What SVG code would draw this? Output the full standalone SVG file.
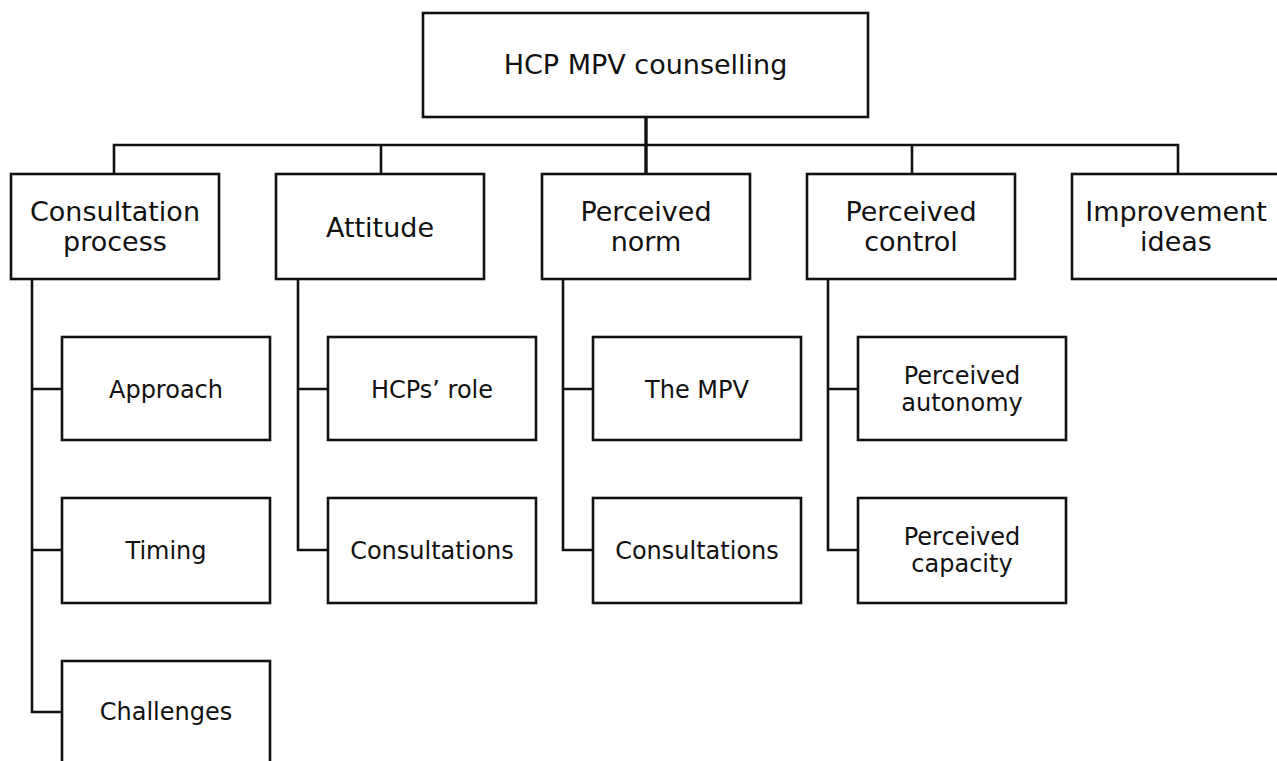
<svg xmlns="http://www.w3.org/2000/svg" width="1277" height="761" viewBox="0 0 1277 761">
<style>
.box{fill:#fff;stroke:#111;stroke-width:2.6}
.ln{fill:none;stroke:#111;stroke-width:2.6}
.t1{font-family:"DejaVu Sans",Verdana,sans-serif;font-size:27px;fill:#111;text-anchor:middle}
.t2{font-family:"DejaVu Sans",Verdana,sans-serif;font-size:24px;fill:#111;text-anchor:middle}
</style>
<rect width="1277" height="761" fill="#fff"/>
<g id="connectors">
<path class="ln" d="M646 117V174" style="stroke-width:3.4"/>
<path class="ln" d="M114 174V145H1178V174"/>
<path class="ln" d="M381 145V174M912 145V174"/>
<path class="ln" d="M32 279V712H62M32 389H62M32 550H62"/>
<path class="ln" d="M298 279V550H328M298 389H328"/>
<path class="ln" d="M563 279V550H593M563 389H593"/>
<path class="ln" d="M828 279V550H858M828 389H858"/>
</g>
<g id="root"><rect class="box" x="423" y="13" width="445" height="104"/><text class="t1" x="645.5" y="74">HCP MPV counselling</text></g>
<g id="consultation-process"><rect class="box" x="11" y="174" width="208" height="105"/><text class="t1" x="115" y="221">Consultation</text><text class="t1" x="115" y="251">process</text></g>
<g id="attitude"><rect class="box" x="276" y="174" width="208" height="105"/><text class="t1" x="380" y="237">Attitude</text></g>
<g id="perceived-norm"><rect class="box" x="542" y="174" width="208" height="105"/><text class="t1" x="646" y="221">Perceived</text><text class="t1" x="646" y="251">norm</text></g>
<g id="perceived-control"><rect class="box" x="807" y="174" width="208" height="105"/><text class="t1" x="911" y="221">Perceived</text><text class="t1" x="911" y="251">control</text></g>
<g id="improvement-ideas"><rect class="box" x="1072" y="174" width="210" height="105"/><text class="t1" x="1176" y="221">Improvement</text><text class="t1" x="1176" y="251">ideas</text></g>
<g id="approach"><rect class="box" x="62" y="337" width="208" height="103"/><text class="t2" x="166" y="398">Approach</text></g>
<g id="timing"><rect class="box" x="62" y="498" width="208" height="105"/><text class="t2" x="166" y="559">Timing</text></g>
<g id="challenges"><rect class="box" x="62" y="661" width="208" height="110"/><text class="t2" x="166" y="720">Challenges</text></g>
<g id="hcps-role"><rect class="box" x="328" y="337" width="208" height="103"/><text class="t2" x="432" y="398">HCPs’ role</text></g>
<g id="attitude-consultations"><rect class="box" x="328" y="498" width="208" height="105"/><text class="t2" x="432" y="559">Consultations</text></g>
<g id="the-mpv"><rect class="box" x="593" y="337" width="208" height="103"/><text class="t2" x="697" y="398">The MPV</text></g>
<g id="norm-consultations"><rect class="box" x="593" y="498" width="208" height="105"/><text class="t2" x="697" y="559">Consultations</text></g>
<g id="perceived-autonomy"><rect class="box" x="858" y="337" width="208" height="103"/><text class="t2" x="962" y="384">Perceived</text><text class="t2" x="962" y="411">autonomy</text></g>
<g id="perceived-capacity"><rect class="box" x="858" y="498" width="208" height="105"/><text class="t2" x="962" y="545">Perceived</text><text class="t2" x="962" y="572">capacity</text></g>
</svg>
